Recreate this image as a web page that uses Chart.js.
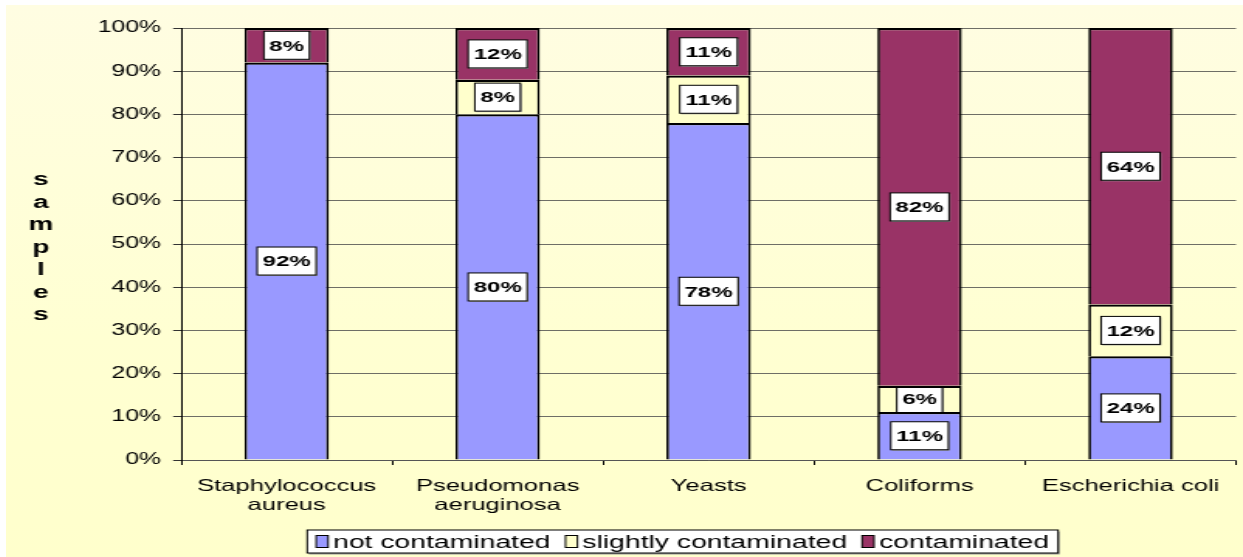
<!DOCTYPE html>
<html>
<head>
<meta charset="utf-8">
<script src="https://cdn.jsdelivr.net/npm/chart.js@4/dist/chart.umd.min.js"></script>
<style>
  html, body { margin: 0; padding: 0; background: #fff; overflow: hidden; }
  #wrap {
    position: absolute; left: 6px; top: 5px; width: 1237px; height: 552px;
    background: linear-gradient(180deg, #fffde2 0%, #ffffd2 60%, #ffffcc 100%);
  }
  #chart { width: 1237px; height: 552px; }
</style>
</head>
<body>
<div id="wrap">
  <!-- drawn narrow and stretched wide, like the original picture -->
  <canvas id="chart" width="798" height="552" style="width:1237px;height:552px"></canvas>
</div>
<script>
const categories = [["Staphylococcus", "aureus"], ["Pseudomonas", "aeruginosa"], "Yeasts", "Coliforms", "Escherichia coli"]
const seriesNames = ["not contaminated", "slightly contaminated", "contaminated"]
const notContaminated = [92, 80, 78, 11, 24]
const slightlyContaminated = [0, 8, 11, 6, 12]
const contaminated = [8, 12, 11, 82, 64]
const seriesColors = ["#9999FF", "#FFFFCC", "#993366"]
const yTickValues = [0, 10, 20, 30, 40, 50, 60, 70, 80, 90, 100]
const yTitle = "samples"

const FONT = "Arial, 'Liberation Sans', sans-serif"
const series = [notContaminated, slightlyContaminated, contaminated]
const totals = categories.map((_, i) => series.reduce((s, arr) => s + arr[i], 0))

// 100% stacked: each column is scaled to its own total
const datasets = series.map((arr, k) => ({
  label: seriesNames[k],
  data: arr.map((v, i) => (v / totals[i]) * 100),
  rawValues: arr,
  backgroundColor: seriesColors[k],
  borderColor: "#000",
  borderWidth: { left: 1.7, right: 1.7, top: 2.2, bottom: 0 },
  borderSkipped: "start",
  inflateAmount: 0,
  barPercentage: 0.4,
  categoryPercentage: 1,
}))

const labelBoxes = {
  id: "labelBoxes",
  afterDatasetsDraw(chart) {
    const ctx = chart.ctx
    chart.data.datasets.forEach((ds, di) => {
      const meta = chart.getDatasetMeta(di)
      meta.data.forEach((bar, i) => {
        const v = ds.rawValues[i]
        if (!v) return
        const { x, y, base, width } = bar.getProps(["x", "y", "base", "width"], true)
        const text = v + "%"
        ctx.save()
        ctx.font = "bold 15.5px " + FONT
        const tw = ctx.measureText(text).width
        const bw = tw + 7
        const bh = 28
        const cy = (y + base) / 2
        // keep the box inside the segment, borders stay on top
        ctx.beginPath()
        ctx.rect(x - width / 2 + 1.7, Math.min(y, base) + 2.2, width - 3.4, Math.abs(base - y) - 2.2)
        ctx.clip()
        ctx.fillStyle = "#9a9a9a"
        ctx.fillRect(x - bw / 2 + 0.8, cy - bh / 2 + 1, bw, bh)
        ctx.fillStyle = "#fff"
        ctx.fillRect(x - bw / 2, cy - bh / 2, bw, bh)
        ctx.strokeStyle = "#000"
        ctx.lineWidth = 1
        ctx.strokeRect(x - bw / 2, cy - bh / 2, bw, bh)
        ctx.fillStyle = "#000"
        ctx.textAlign = "center"
        ctx.textBaseline = "middle"
        ctx.fillText(text, x, cy + 1)
        ctx.restore()
      })
    })
  },
}

const extras = {
  id: "extras",
  afterDraw(chart) {
    const ctx = chart.ctx
    const area = chart.chartArea
    ctx.save()

    // vertical axis title, one letter per line
    ctx.font = "bold 18px " + FONT
    ctx.fillStyle = "#000"
    ctx.textAlign = "center"
    ctx.textBaseline = "middle"
    const step = 22.5
    const mid = (area.top + area.bottom) / 2 + 4
    const letters = yTitle.split("")
    letters.forEach((ch, i) => {
      ctx.fillText(ch, 22.6, mid + (i - (letters.length - 1) / 2) * step)
    })

    // legend in a white bordered box
    ctx.font = "18.3px " + FONT
    const boxW = 7.7, boxH = 12, gap = 3.2, itemGap = 9.7, padX = 5.8
    const items = chart.data.datasets.map((ds) => ({
      label: ds.label,
      color: ds.backgroundColor,
      w: ctx.measureText(ds.label).width,
    }))
    let total = padX * 2 + itemGap * (items.length - 1)
    items.forEach((it) => (total += boxW + gap + it.w))
    const left = 436.5 - total / 2
    const top = 525, h = 23
    ctx.fillStyle = "#9a9a9a"
    ctx.fillRect(left + 1, top + 1.5, total, h)
    ctx.fillStyle = "#fff"
    ctx.fillRect(left, top, total, h)
    ctx.strokeStyle = "#000"
    ctx.lineWidth = 1
    ctx.strokeRect(left, top, total, h)
    let cx = left + padX
    const cy = top + h / 2
    ctx.textAlign = "left"
    items.forEach((it) => {
      ctx.fillStyle = it.color
      ctx.fillRect(cx, cy - boxH / 2, boxW, boxH)
      ctx.strokeStyle = "#000"
      ctx.strokeRect(cx, cy - boxH / 2, boxW, boxH)
      cx += boxW + gap
      ctx.fillStyle = "#000"
      ctx.fillText(it.label, cx, cy + 1)
      cx += it.w + itemGap
    })
    ctx.restore()
  },
}

Chart.defaults.font.family = FONT
Chart.defaults.color = "#000"

new Chart(document.getElementById("chart"), {
  type: "bar",
  data: { labels: categories, datasets: datasets },
  options: {
    responsive: false,
    animation: false,
    devicePixelRatio: 1,
    layout: { padding: { top: 23, right: 4.5, bottom: 0, left: 0 } },
    plugins: {
      legend: { display: false },
      tooltip: { enabled: false },
    },
    scales: {
      x: {
        stacked: true,
        afterFit: (scale) => { scale.height = 97 },
        grid: { drawOnChartArea: false, drawTicks: true, tickLength: 5, color: "#000", offset: true },
        border: { display: true, color: "#555", width: 1 },
        ticks: { font: { size: 16.5, lineHeight: 1.15 }, padding: 11.8, maxRotation: 0, autoSkip: false },
      },
      y: {
        stacked: true,
        min: 0,
        max: 100,
        afterFit: (scale) => { scale.width = 113 },
        afterBuildTicks: (scale) => { scale.ticks = yTickValues.map((v) => ({ value: v })) },
        grid: { color: "#6e6e66", tickLength: 5.2, tickColor: "#333" },
        border: { display: true, color: "#000", width: 1 },
        ticks: { font: { size: 16 }, padding: 7.7, callback: (v) => v + "%" },
      },
    },
  },
  plugins: [labelBoxes, extras],
})
</script>
</body>
</html>
